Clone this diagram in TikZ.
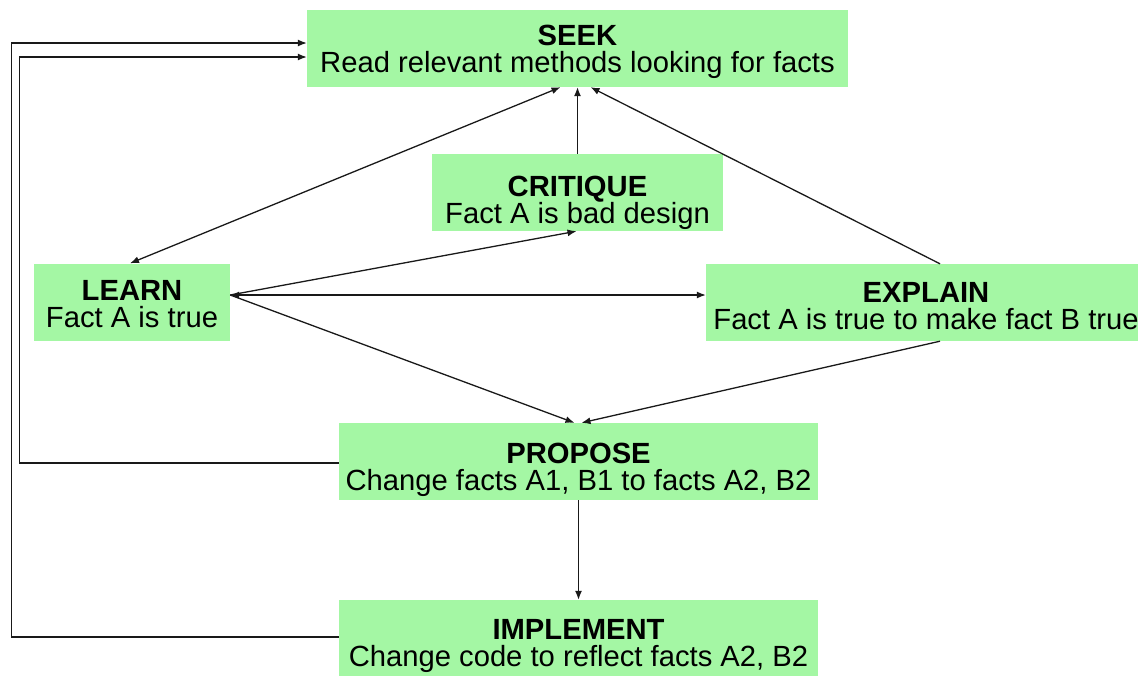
\documentclass[tikz,border=0pt]{standalone}
\usepackage{fontspec}
\setmainfont{Liberation Sans}
\usetikzlibrary{arrows.meta,calc}
\definecolor{boxgreen}{RGB}{164,247,164}
\definecolor{linecol}{RGB}{25,25,25}
\newcommand{\boxtext}[3]{\rule{0pt}{#1pt}\textbf{#2}\\#3\rule[-5.5pt]{0pt}{5.5pt}}
\begin{document}
\begin{tikzpicture}[x=1pt,y=-1pt,
  box/.style={fill=boxgreen, draw=none, inner sep=0pt, align=center, minimum height=77pt, font=\fontsize{29.2}{27}\selectfont},
  conn/.style={draw=linecol, line width=1.3pt, -{Latex[length=9pt,width=7pt]}},
  both/.style={draw=linecol, line width=1.3pt, {Latex[length=9pt,width=7pt]}-{Latex[length=9pt,width=7pt]}}]
\useasboundingbox (0,0) rectangle (1138,675);
\node[box, minimum width=541pt] (seek) at (577.5,48.5) {\boxtext{28}{SEEK}{Read relevant methods looking for facts}};
\node[box, minimum width=291pt] (critique) at (577.5,192.5) {\boxtext{41}{CRITIQUE}{Fact A is bad design}};
\node[box, minimum width=196pt] (learn) at (132,302) {\boxtext{29}{LEARN}{Fact A is true}};
\node[box, minimum width=440pt] (explain) at (926,302.5) {\boxtext{32}{EXPLAIN}{Fact A is true to make fact B true}};
\node[box, minimum width=479pt] (propose) at (578.5,461.5) {\boxtext{37}{PROPOSE}{Change facts A1, B1 to facts A2, B2}};
\node[box, minimum width=479pt] (implement) at (578.5,638.5) {\boxtext{35}{IMPLEMENT}{Change code to reflect facts A2, B2}};
\coordinate (lp) at ([yshift=7pt]learn.east);
% connectors
\draw[both] ([xshift=-17pt]seek.south) -- ([xshift=-2pt]learn.north);
\draw[conn] (critique) -- (seek);
\draw[conn] ([xshift=14pt]explain.north) -- ([xshift=13pt]seek.south);
\draw[conn] (lp) -- ([xshift=-1pt]critique.south);
\draw[both] (lp) -- (explain.west |- lp);
\draw[conn] (lp) -- ([xshift=-4pt]propose.north);
\draw[conn] ([xshift=14pt]explain.south) -- ([xshift=3pt]propose.north);
\draw[conn] (propose) -- (implement);
\draw[conn] ([yshift=-1.5pt]propose.west) -- ++(-319,0) |- ([yshift=-8.5pt]seek.west);
\draw[conn] ([yshift=1.5pt]implement.west) -- ++(-327,0) |- ([yshift=5.5pt]seek.west);
\end{tikzpicture}
\end{document}
